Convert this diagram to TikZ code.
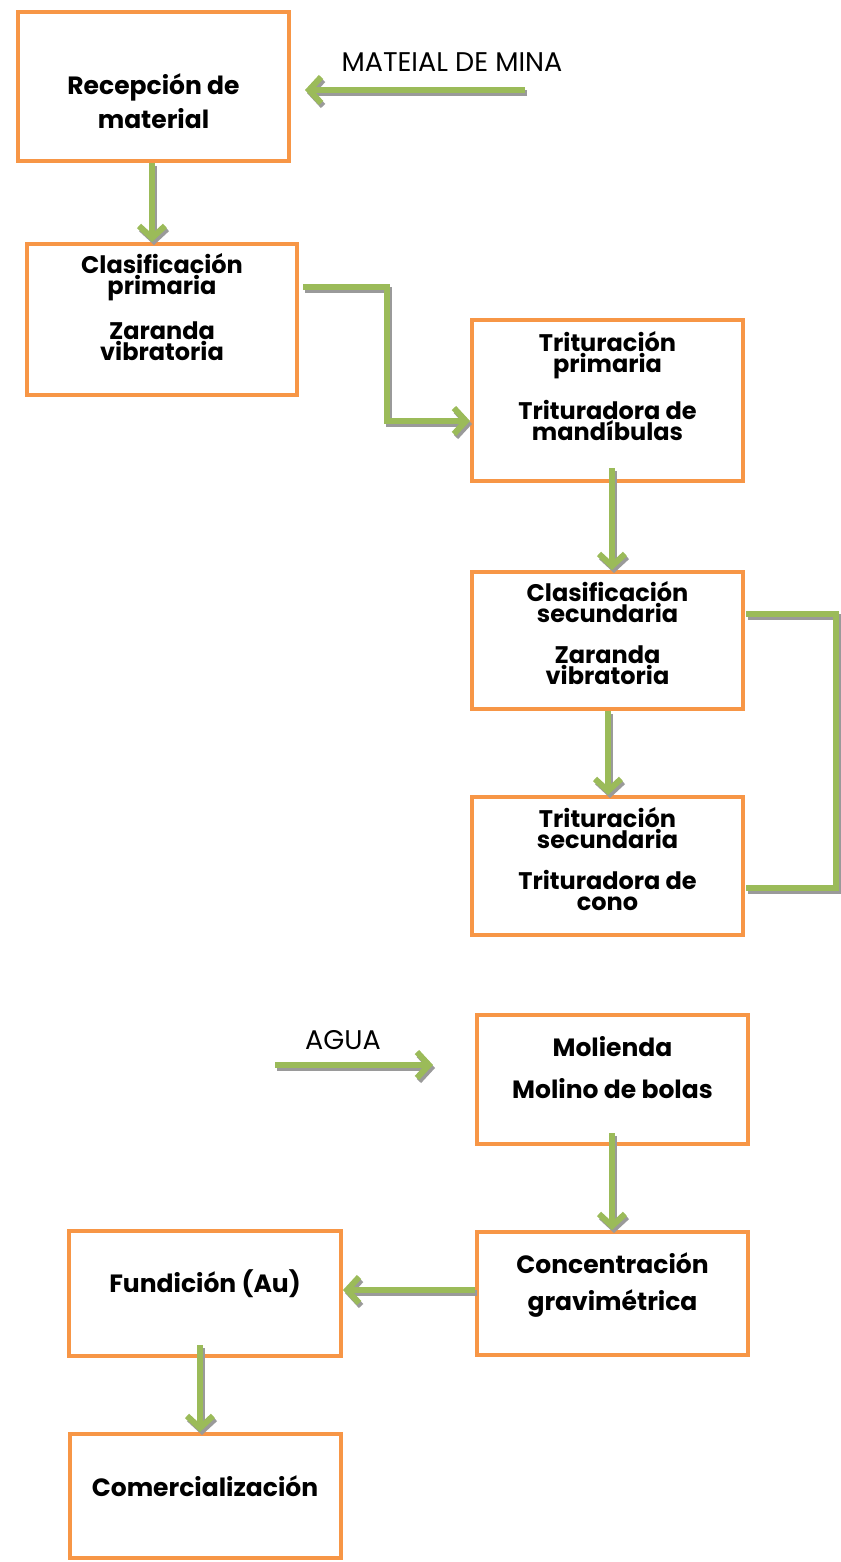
\documentclass[tikz,border=0pt]{standalone}
\usepackage{fontspec}
\setmainfont{Poppins}
\usetikzlibrary{arrows.meta}
\definecolor{boxorange}{HTML}{F79646}
\definecolor{flowgreen}{HTML}{9BBB59}
\definecolor{shgray}{HTML}{9A9A9A}
\tikzset{
  box/.style={draw=boxorange, line width=4pt, fill=white, inner sep=0pt},
  lbl/.style={align=center, inner sep=0pt, font=\bfseries\fontsize{24}{21}\selectfont},
  biglbl/.style={align=center, inner sep=0pt, font=\bfseries\fontsize{25}{21}\selectfont},
  plain/.style={inner sep=0pt, font=\fontsize{27}{28}\selectfont},
  flowline/.style={draw=flowgreen, line width=6pt},
  flow/.style={flowline, -{Straight Barb[length=12pt,width=26pt]}},
}
\newcommand\shadowdraw[2]{%
  \begin{scope}[transform canvas={shift={(2pt,-3pt)}}]\draw[#1,draw=shgray] #2;\end{scope}
  \draw[#1] #2;}
\begin{document}
\begin{tikzpicture}[x=1pt,y=-1pt]
\useasboundingbox (0,0) rectangle (840,1562);
% boxes
\node[box, minimum width=271pt, minimum height=149pt] (rec) at (153.5,86.5) {};
\node[box, minimum width=270pt, minimum height=151pt] (cp) at (162,319.5) {};
\node[box, minimum width=271pt, minimum height=161pt] (tp) at (607.5,400.5) {};
\node[box, minimum width=271pt, minimum height=137pt] (cs) at (607.5,640.5) {};
\node[box, minimum width=271pt, minimum height=138pt] (ts) at (607.5,866) {};
\node[box, minimum width=271pt, minimum height=129pt] (mol) at (612.5,1079.5) {};
\node[box, minimum width=271pt, minimum height=123pt] (con) at (612.5,1293.5) {};
\node[box, minimum width=272pt, minimum height=125pt] (fun) at (205,1293.5) {};
\node[box, minimum width=271pt, minimum height=124pt] (com) at (205.5,1496) {};
% texts
\node[biglbl] (recT) at (153.5,101) {Recepción de\\[6pt]material};
\node[lbl] (cpT) at (162,307) {Clasificación\\primaria\\[20pt]Zaranda\\vibratoria};
\node[lbl] (tpT) at (607.5,386) {Trituración\\primaria\\[20pt]Trituradora de\\mandíbulas};
\node[lbl] (csT) at (607.5,633) {Clasificación\\secundaria\\[20pt]Zaranda\\vibratoria};
\node[lbl] (tsT) at (607.5,859) {Trituración\\secundaria\\[20pt]Trituradora de\\cono};
\node[biglbl] (molT) at (612.5,1068) {Molienda\\[21pt]Molino de bolas};
\node[biglbl] (conT) at (612.5,1285) {Concentración\\[14pt]gravimétrica};
\node[biglbl] (funT) at (205,1284) {Fundición (Au)};
\node[biglbl] (comT) at (205,1486) {Comercialización};
\node[plain] (minaT) at (452,62) {MATEIAL DE MINA};
\node[plain] (aguaT) at (343,1040) {AGUA};
% coordinates
\coordinate (minaS) at (525,90);
\coordinate (minaE) at (305,90);
\coordinate (cpOut) at (303,287);
\coordinate (k1) at (387,287);
\coordinate (k2) at (387,421);
\coordinate (tpIn) at (470,421);
\coordinate (tpOut) at (612,468);
\coordinate (csOut) at (746,614);
\coordinate (b1) at (836,614);
\coordinate (b2) at (836,888);
\coordinate (tsOut) at (746,888);
\coordinate (aguaS) at (275,1065);
\coordinate (aguaE) at (433,1065);
\coordinate (molOut) at (612,1133);
\coordinate (funOut) at (200,1345);
% connectors
\shadowdraw{flow}{(minaS) -- (minaE)}
\shadowdraw{flow}{(rec.south -| 152,0) -- (cp.north -| 152,0)}
\shadowdraw{flow}{(cpOut) -- (k1) -- (k2) -- (tpIn)}
\shadowdraw{flow}{(tpOut) -- (cs.north -| tpOut)}
\shadowdraw{flow}{(cs.south -| 608,0) -- (ts.north -| 608,0)}
\shadowdraw{flowline}{(csOut) -- (b1) -- (b2) -- (tsOut)}
\shadowdraw{flow}{(aguaS) -- (aguaE)}
\shadowdraw{flow}{(molOut) -- (con.north -| molOut)}
\shadowdraw{flow}{(con.west |- 0,1290) -- (fun.east |- 0,1290)}
\shadowdraw{flow}{(funOut) -- (com.north -| funOut)}
\end{tikzpicture}
\end{document}
